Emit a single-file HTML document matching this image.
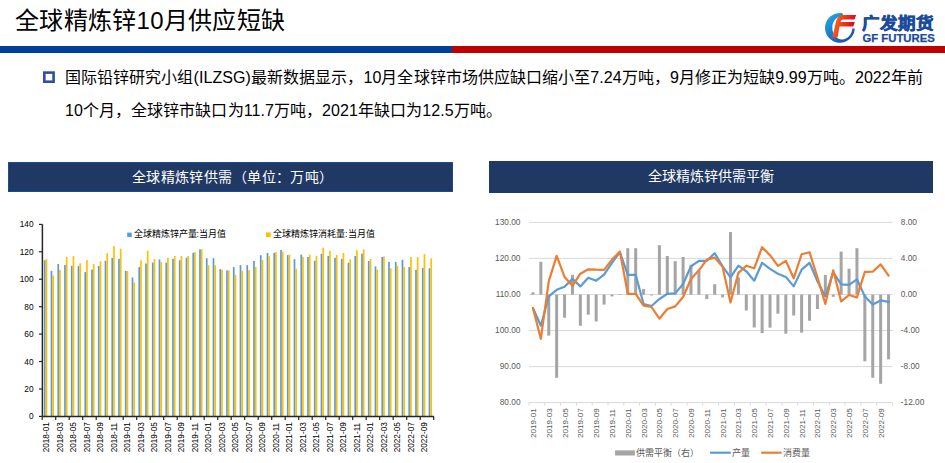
<!DOCTYPE html>
<html lang="zh-CN"><head><meta charset="utf-8">
<style>
html,body{margin:0;padding:0;background:#fff;}
body{width:945px;height:463px;position:relative;overflow:hidden;font-family:"Liberation Sans", sans-serif;}
.abs{position:absolute;}
.title{left:15px;top:4px;letter-spacing:0.3px;font-size:24px;line-height:34px;color:#000;white-space:nowrap;}
.bar-b{left:0;top:46px;width:452px;height:7px;background:#004098;}
.bar-r{left:452px;top:46px;width:493px;height:7px;background:#C00000;}
.bullet{left:43px;top:71.3px;width:6.7px;height:6.5px;border:2.5px solid #2F4F9F;}
.p{left:65px;top:61px;width:870px;font-size:16px;line-height:33px;letter-spacing:0.07px;color:#000;}
.hd{background:#1F3864;color:#fff;text-align:center;font-family:"Liberation Serif",serif;font-size:14px;}
</style></head><body>
<div class="abs title">全球精炼锌10月供应短缺</div>

<svg style="position:absolute;left:820px;top:8px" width="120" height="40" viewBox="820 8 120 40">
  <defs>
    <linearGradient id="gb" x1="0.1" y1="0.1" x2="0.8" y2="1">
      <stop offset="0" stop-color="#22a3e6"/><stop offset="1" stop-color="#1c4fa3"/>
    </linearGradient>
    <linearGradient id="gr" x1="0" y1="0.3" x2="1" y2="0.6">
      <stop offset="0.15" stop-color="#f2601e"/><stop offset="0.85" stop-color="#e5061d"/>
    </linearGradient>
  </defs>
  <path d="M842.2 13.1 A14.9 14.9 0 1 0 854.8 28.6 L852.2 28.6 C852 34.5 847.5 39.6 842 39.6 C836.5 39.6 832.3 34 832.3 27.5 C832.3 21 837 15.8 843.5 15.8 Z" fill="url(#gb)"/>
  <path d="M841.7 15 L856.1 15 L854.5 19.5 L842.8 19.5 Q841 19.5 840.5 22 L854.9 22 L853.2 26.5 L839.5 26.5 L837.6 37.5 L832.3 37.5 L835.3 24.5 Q836.8 15.8 841.7 15 Z" fill="url(#gr)"/>
  <text x="862" y="28.6" font-size="15.5" font-weight="900" fill="#1b4c9c" stroke="#1b4c9c" stroke-width="0.6" textLength="72.5" lengthAdjust="spacingAndGlyphs">广发期货</text>
  <text x="862.5" y="42" font-size="10.6" font-weight="bold" fill="#1b4c9c" stroke="#1b4c9c" stroke-width="0.25" textLength="72.3" lengthAdjust="spacingAndGlyphs">GF FUTURES</text>
</svg>

<div class="abs bar-b"></div><div class="abs bar-r"></div>
<svg class="abs" style="left:0;top:0" width="60" height="90"><rect x="44.3" y="72.6" width="9.3" height="9.1" fill="none" stroke="#2F4F9F" stroke-width="2.6"/></svg>
<div class="abs p">国际铅锌研究小组(ILZSG)最新数据显示，10月全球锌市场供应缺口缩小至7.24万吨，9月修正为短缺9.99万吨。2022年前<br>10个月，全球锌市缺口为11.7万吨，2021年缺口为12.5万吨。</div>
<div class="abs hd" style="left:8px;top:162px;width:444.5px;height:30px;line-height:31.2px;letter-spacing:0.42px;box-sizing:border-box;padding-left:4.9px;box-shadow:inset 0 0 0 1px #1a4a90;">全球精炼锌供需（单位：万吨）</div>
<div class="abs hd" style="left:489px;top:161px;width:444px;height:32px;line-height:31px;">全球精炼锌供需平衡</div>
<svg class="abs" style="left:0;top:0" width="945" height="463" viewBox="0 0 945 463" font-family='"Liberation Sans", sans-serif'>
<rect x="43.90" y="260.2" width="1.7" height="156.2" fill="#5B9BD5"/>
<rect x="45.60" y="259.1" width="1.7" height="157.3" fill="#FFC000"/>
<rect x="50.65" y="270.9" width="1.7" height="145.5" fill="#5B9BD5"/>
<rect x="52.35" y="275.5" width="1.7" height="140.9" fill="#FFC000"/>
<rect x="57.40" y="264.0" width="1.7" height="152.4" fill="#5B9BD5"/>
<rect x="59.10" y="269.9" width="1.7" height="146.5" fill="#FFC000"/>
<rect x="64.15" y="265.0" width="1.7" height="151.4" fill="#5B9BD5"/>
<rect x="65.85" y="257.0" width="1.7" height="159.4" fill="#FFC000"/>
<rect x="70.90" y="265.8" width="1.7" height="150.6" fill="#5B9BD5"/>
<rect x="72.60" y="255.9" width="1.7" height="160.5" fill="#FFC000"/>
<rect x="77.65" y="266.1" width="1.7" height="150.3" fill="#5B9BD5"/>
<rect x="79.35" y="263.2" width="1.7" height="153.2" fill="#FFC000"/>
<rect x="84.40" y="272.1" width="1.7" height="144.3" fill="#5B9BD5"/>
<rect x="86.10" y="260.2" width="1.7" height="156.2" fill="#FFC000"/>
<rect x="91.15" y="269.6" width="1.7" height="146.8" fill="#5B9BD5"/>
<rect x="92.85" y="264.1" width="1.7" height="152.3" fill="#FFC000"/>
<rect x="97.90" y="266.0" width="1.7" height="150.4" fill="#5B9BD5"/>
<rect x="99.60" y="261.3" width="1.7" height="155.1" fill="#FFC000"/>
<rect x="104.65" y="260.8" width="1.7" height="155.6" fill="#5B9BD5"/>
<rect x="106.35" y="253.2" width="1.7" height="163.2" fill="#FFC000"/>
<rect x="111.40" y="257.9" width="1.7" height="158.5" fill="#5B9BD5"/>
<rect x="113.10" y="246.1" width="1.7" height="170.3" fill="#FFC000"/>
<rect x="118.15" y="258.9" width="1.7" height="157.5" fill="#5B9BD5"/>
<rect x="119.85" y="248.7" width="1.7" height="167.7" fill="#FFC000"/>
<rect x="124.90" y="270.9" width="1.7" height="145.5" fill="#5B9BD5"/>
<rect x="126.60" y="271.0" width="1.7" height="145.4" fill="#FFC000"/>
<rect x="131.65" y="277.4" width="1.7" height="139.0" fill="#5B9BD5"/>
<rect x="133.35" y="282.3" width="1.7" height="134.1" fill="#FFC000"/>
<rect x="138.40" y="266.9" width="1.7" height="149.5" fill="#5B9BD5"/>
<rect x="140.10" y="260.3" width="1.7" height="156.1" fill="#FFC000"/>
<rect x="145.15" y="263.5" width="1.7" height="152.9" fill="#5B9BD5"/>
<rect x="146.85" y="250.8" width="1.7" height="165.6" fill="#FFC000"/>
<rect x="151.90" y="262.6" width="1.7" height="153.8" fill="#5B9BD5"/>
<rect x="153.60" y="259.0" width="1.7" height="157.4" fill="#FFC000"/>
<rect x="158.65" y="259.4" width="1.7" height="157.0" fill="#5B9BD5"/>
<rect x="160.35" y="262.3" width="1.7" height="154.1" fill="#FFC000"/>
<rect x="165.40" y="262.6" width="1.7" height="153.8" fill="#5B9BD5"/>
<rect x="167.10" y="257.8" width="1.7" height="158.6" fill="#FFC000"/>
<rect x="172.15" y="259.0" width="1.7" height="157.4" fill="#5B9BD5"/>
<rect x="173.85" y="256.0" width="1.7" height="160.4" fill="#FFC000"/>
<rect x="178.90" y="260.2" width="1.7" height="156.2" fill="#5B9BD5"/>
<rect x="180.60" y="256.0" width="1.7" height="160.4" fill="#FFC000"/>
<rect x="185.65" y="257.8" width="1.7" height="158.6" fill="#5B9BD5"/>
<rect x="187.35" y="256.0" width="1.7" height="160.4" fill="#FFC000"/>
<rect x="192.40" y="252.8" width="1.7" height="163.6" fill="#5B9BD5"/>
<rect x="194.10" y="252.2" width="1.7" height="164.2" fill="#FFC000"/>
<rect x="199.15" y="249.3" width="1.7" height="167.1" fill="#5B9BD5"/>
<rect x="200.85" y="249.3" width="1.7" height="167.1" fill="#FFC000"/>
<rect x="205.90" y="258.2" width="1.7" height="158.2" fill="#5B9BD5"/>
<rect x="207.60" y="265.2" width="1.7" height="151.2" fill="#FFC000"/>
<rect x="212.65" y="258.2" width="1.7" height="158.2" fill="#5B9BD5"/>
<rect x="214.35" y="265.2" width="1.7" height="151.2" fill="#FFC000"/>
<rect x="219.40" y="269.1" width="1.7" height="147.3" fill="#5B9BD5"/>
<rect x="221.10" y="269.8" width="1.7" height="146.6" fill="#FFC000"/>
<rect x="226.15" y="270.4" width="1.7" height="146.0" fill="#5B9BD5"/>
<rect x="227.85" y="270.3" width="1.7" height="146.1" fill="#FFC000"/>
<rect x="232.90" y="267.1" width="1.7" height="149.3" fill="#5B9BD5"/>
<rect x="234.60" y="274.8" width="1.7" height="141.6" fill="#FFC000"/>
<rect x="239.65" y="265.1" width="1.7" height="151.3" fill="#5B9BD5"/>
<rect x="241.35" y="270.9" width="1.7" height="145.5" fill="#FFC000"/>
<rect x="246.40" y="265.1" width="1.7" height="151.3" fill="#5B9BD5"/>
<rect x="248.10" y="270.1" width="1.7" height="146.3" fill="#FFC000"/>
<rect x="253.15" y="261.0" width="1.7" height="155.4" fill="#5B9BD5"/>
<rect x="254.85" y="266.9" width="1.7" height="149.5" fill="#FFC000"/>
<rect x="259.90" y="255.2" width="1.7" height="161.2" fill="#5B9BD5"/>
<rect x="261.60" y="260.0" width="1.7" height="156.4" fill="#FFC000"/>
<rect x="266.65" y="252.9" width="1.7" height="163.5" fill="#5B9BD5"/>
<rect x="268.35" y="256.2" width="1.7" height="160.2" fill="#FFC000"/>
<rect x="273.40" y="252.9" width="1.7" height="163.5" fill="#5B9BD5"/>
<rect x="275.10" y="252.1" width="1.7" height="164.3" fill="#FFC000"/>
<rect x="280.15" y="250.0" width="1.7" height="166.4" fill="#5B9BD5"/>
<rect x="281.85" y="251.5" width="1.7" height="164.9" fill="#FFC000"/>
<rect x="286.90" y="255.1" width="1.7" height="161.3" fill="#5B9BD5"/>
<rect x="288.60" y="254.6" width="1.7" height="161.8" fill="#FFC000"/>
<rect x="293.65" y="259.2" width="1.7" height="157.2" fill="#5B9BD5"/>
<rect x="295.35" y="268.9" width="1.7" height="147.5" fill="#FFC000"/>
<rect x="300.40" y="254.6" width="1.7" height="161.8" fill="#5B9BD5"/>
<rect x="302.10" y="257.0" width="1.7" height="159.4" fill="#FFC000"/>
<rect x="307.15" y="257.0" width="1.7" height="159.4" fill="#5B9BD5"/>
<rect x="308.85" y="254.6" width="1.7" height="161.8" fill="#FFC000"/>
<rect x="313.90" y="260.8" width="1.7" height="155.6" fill="#5B9BD5"/>
<rect x="315.60" y="255.8" width="1.7" height="160.6" fill="#FFC000"/>
<rect x="320.65" y="253.8" width="1.7" height="162.6" fill="#5B9BD5"/>
<rect x="322.35" y="247.7" width="1.7" height="168.7" fill="#FFC000"/>
<rect x="327.40" y="256.0" width="1.7" height="160.4" fill="#5B9BD5"/>
<rect x="329.10" y="250.8" width="1.7" height="165.6" fill="#FFC000"/>
<rect x="334.15" y="257.8" width="1.7" height="158.6" fill="#5B9BD5"/>
<rect x="335.85" y="255.0" width="1.7" height="161.4" fill="#FFC000"/>
<rect x="340.90" y="258.9" width="1.7" height="157.5" fill="#5B9BD5"/>
<rect x="342.60" y="252.9" width="1.7" height="163.5" fill="#FFC000"/>
<rect x="347.65" y="262.8" width="1.7" height="153.6" fill="#5B9BD5"/>
<rect x="349.35" y="259.4" width="1.7" height="157.0" fill="#FFC000"/>
<rect x="354.40" y="256.0" width="1.7" height="160.4" fill="#5B9BD5"/>
<rect x="356.10" y="250.2" width="1.7" height="166.2" fill="#FFC000"/>
<rect x="361.15" y="253.7" width="1.7" height="162.7" fill="#5B9BD5"/>
<rect x="362.85" y="249.4" width="1.7" height="167.0" fill="#FFC000"/>
<rect x="367.90" y="261.0" width="1.7" height="155.4" fill="#5B9BD5"/>
<rect x="369.60" y="259.0" width="1.7" height="157.4" fill="#FFC000"/>
<rect x="374.65" y="266.4" width="1.7" height="150.0" fill="#5B9BD5"/>
<rect x="376.35" y="269.6" width="1.7" height="146.8" fill="#FFC000"/>
<rect x="381.40" y="257.0" width="1.7" height="159.4" fill="#5B9BD5"/>
<rect x="383.10" y="256.5" width="1.7" height="159.9" fill="#FFC000"/>
<rect x="388.15" y="261.9" width="1.7" height="154.5" fill="#5B9BD5"/>
<rect x="389.85" y="268.3" width="1.7" height="148.1" fill="#FFC000"/>
<rect x="394.90" y="262.0" width="1.7" height="154.4" fill="#5B9BD5"/>
<rect x="396.60" y="265.9" width="1.7" height="150.5" fill="#FFC000"/>
<rect x="401.65" y="259.7" width="1.7" height="156.7" fill="#5B9BD5"/>
<rect x="403.35" y="266.9" width="1.7" height="149.5" fill="#FFC000"/>
<rect x="408.40" y="267.1" width="1.7" height="149.3" fill="#5B9BD5"/>
<rect x="410.10" y="257.0" width="1.7" height="159.4" fill="#FFC000"/>
<rect x="415.15" y="269.7" width="1.7" height="146.7" fill="#5B9BD5"/>
<rect x="416.85" y="257.0" width="1.7" height="159.4" fill="#FFC000"/>
<rect x="421.90" y="267.9" width="1.7" height="148.5" fill="#5B9BD5"/>
<rect x="423.60" y="254.0" width="1.7" height="162.4" fill="#FFC000"/>
<rect x="428.65" y="268.3" width="1.7" height="148.1" fill="#5B9BD5"/>
<rect x="430.35" y="258.4" width="1.7" height="158.0" fill="#FFC000"/>
<line x1="42.4" y1="224.4" x2="42.4" y2="416.4" stroke="#262626" stroke-width="1.5"/>
<line x1="42.4" y1="416.4" x2="434" y2="416.4" stroke="#262626" stroke-width="1.5"/>
<line x1="39" y1="416.4" x2="42.4" y2="416.4" stroke="#262626" stroke-width="1.2"/>
<text x="33.5" y="419.4" text-anchor="end" font-size="8.3" fill="#000">0</text>
<line x1="39" y1="389.0" x2="42.4" y2="389.0" stroke="#262626" stroke-width="1.2"/>
<text x="33.5" y="392.0" text-anchor="end" font-size="8.3" fill="#000">20</text>
<line x1="39" y1="361.5" x2="42.4" y2="361.5" stroke="#262626" stroke-width="1.2"/>
<text x="33.5" y="364.5" text-anchor="end" font-size="8.3" fill="#000">40</text>
<line x1="39" y1="334.1" x2="42.4" y2="334.1" stroke="#262626" stroke-width="1.2"/>
<text x="33.5" y="337.1" text-anchor="end" font-size="8.3" fill="#000">60</text>
<line x1="39" y1="306.7" x2="42.4" y2="306.7" stroke="#262626" stroke-width="1.2"/>
<text x="33.5" y="309.7" text-anchor="end" font-size="8.3" fill="#000">80</text>
<line x1="39" y1="279.2" x2="42.4" y2="279.2" stroke="#262626" stroke-width="1.2"/>
<text x="33.5" y="282.2" text-anchor="end" font-size="8.3" fill="#000">100</text>
<line x1="39" y1="251.8" x2="42.4" y2="251.8" stroke="#262626" stroke-width="1.2"/>
<text x="33.5" y="254.8" text-anchor="end" font-size="8.3" fill="#000">120</text>
<line x1="39" y1="224.4" x2="42.4" y2="224.4" stroke="#262626" stroke-width="1.2"/>
<text x="33.5" y="227.4" text-anchor="end" font-size="8.3" fill="#000">140</text>
<line x1="42.2" y1="416.4" x2="42.2" y2="419.9" stroke="#262626" stroke-width="1.2"/>
<line x1="55.7" y1="416.4" x2="55.7" y2="419.9" stroke="#262626" stroke-width="1.2"/>
<line x1="69.2" y1="416.4" x2="69.2" y2="419.9" stroke="#262626" stroke-width="1.2"/>
<line x1="82.7" y1="416.4" x2="82.7" y2="419.9" stroke="#262626" stroke-width="1.2"/>
<line x1="96.2" y1="416.4" x2="96.2" y2="419.9" stroke="#262626" stroke-width="1.2"/>
<line x1="109.7" y1="416.4" x2="109.7" y2="419.9" stroke="#262626" stroke-width="1.2"/>
<line x1="123.2" y1="416.4" x2="123.2" y2="419.9" stroke="#262626" stroke-width="1.2"/>
<line x1="136.7" y1="416.4" x2="136.7" y2="419.9" stroke="#262626" stroke-width="1.2"/>
<line x1="150.2" y1="416.4" x2="150.2" y2="419.9" stroke="#262626" stroke-width="1.2"/>
<line x1="163.7" y1="416.4" x2="163.7" y2="419.9" stroke="#262626" stroke-width="1.2"/>
<line x1="177.2" y1="416.4" x2="177.2" y2="419.9" stroke="#262626" stroke-width="1.2"/>
<line x1="190.7" y1="416.4" x2="190.7" y2="419.9" stroke="#262626" stroke-width="1.2"/>
<line x1="204.2" y1="416.4" x2="204.2" y2="419.9" stroke="#262626" stroke-width="1.2"/>
<line x1="217.7" y1="416.4" x2="217.7" y2="419.9" stroke="#262626" stroke-width="1.2"/>
<line x1="231.2" y1="416.4" x2="231.2" y2="419.9" stroke="#262626" stroke-width="1.2"/>
<line x1="244.7" y1="416.4" x2="244.7" y2="419.9" stroke="#262626" stroke-width="1.2"/>
<line x1="258.2" y1="416.4" x2="258.2" y2="419.9" stroke="#262626" stroke-width="1.2"/>
<line x1="271.7" y1="416.4" x2="271.7" y2="419.9" stroke="#262626" stroke-width="1.2"/>
<line x1="285.2" y1="416.4" x2="285.2" y2="419.9" stroke="#262626" stroke-width="1.2"/>
<line x1="298.7" y1="416.4" x2="298.7" y2="419.9" stroke="#262626" stroke-width="1.2"/>
<line x1="312.2" y1="416.4" x2="312.2" y2="419.9" stroke="#262626" stroke-width="1.2"/>
<line x1="325.7" y1="416.4" x2="325.7" y2="419.9" stroke="#262626" stroke-width="1.2"/>
<line x1="339.2" y1="416.4" x2="339.2" y2="419.9" stroke="#262626" stroke-width="1.2"/>
<line x1="352.7" y1="416.4" x2="352.7" y2="419.9" stroke="#262626" stroke-width="1.2"/>
<line x1="366.2" y1="416.4" x2="366.2" y2="419.9" stroke="#262626" stroke-width="1.2"/>
<line x1="379.7" y1="416.4" x2="379.7" y2="419.9" stroke="#262626" stroke-width="1.2"/>
<line x1="393.2" y1="416.4" x2="393.2" y2="419.9" stroke="#262626" stroke-width="1.2"/>
<line x1="406.7" y1="416.4" x2="406.7" y2="419.9" stroke="#262626" stroke-width="1.2"/>
<line x1="420.2" y1="416.4" x2="420.2" y2="419.9" stroke="#262626" stroke-width="1.2"/>
<line x1="433.7" y1="416.4" x2="433.7" y2="419.9" stroke="#262626" stroke-width="1.2"/>
<text transform="translate(49.1,452.3) rotate(-90)" font-size="8.2" fill="#000">2018-01</text>
<text transform="translate(62.6,452.3) rotate(-90)" font-size="8.2" fill="#000">2018-03</text>
<text transform="translate(76.1,452.3) rotate(-90)" font-size="8.2" fill="#000">2018-05</text>
<text transform="translate(89.6,452.3) rotate(-90)" font-size="8.2" fill="#000">2018-07</text>
<text transform="translate(103.1,452.3) rotate(-90)" font-size="8.2" fill="#000">2018-09</text>
<text transform="translate(116.6,452.3) rotate(-90)" font-size="8.2" fill="#000">2018-11</text>
<text transform="translate(130.1,452.3) rotate(-90)" font-size="8.2" fill="#000">2019-01</text>
<text transform="translate(143.6,452.3) rotate(-90)" font-size="8.2" fill="#000">2019-03</text>
<text transform="translate(157.1,452.3) rotate(-90)" font-size="8.2" fill="#000">2019-05</text>
<text transform="translate(170.6,452.3) rotate(-90)" font-size="8.2" fill="#000">2019-07</text>
<text transform="translate(184.1,452.3) rotate(-90)" font-size="8.2" fill="#000">2019-09</text>
<text transform="translate(197.6,452.3) rotate(-90)" font-size="8.2" fill="#000">2019-11</text>
<text transform="translate(211.1,452.3) rotate(-90)" font-size="8.2" fill="#000">2020-01</text>
<text transform="translate(224.6,452.3) rotate(-90)" font-size="8.2" fill="#000">2020-03</text>
<text transform="translate(238.1,452.3) rotate(-90)" font-size="8.2" fill="#000">2020-05</text>
<text transform="translate(251.6,452.3) rotate(-90)" font-size="8.2" fill="#000">2020-07</text>
<text transform="translate(265.1,452.3) rotate(-90)" font-size="8.2" fill="#000">2020-09</text>
<text transform="translate(278.6,452.3) rotate(-90)" font-size="8.2" fill="#000">2020-11</text>
<text transform="translate(292.1,452.3) rotate(-90)" font-size="8.2" fill="#000">2021-01</text>
<text transform="translate(305.6,452.3) rotate(-90)" font-size="8.2" fill="#000">2021-03</text>
<text transform="translate(319.1,452.3) rotate(-90)" font-size="8.2" fill="#000">2021-05</text>
<text transform="translate(332.6,452.3) rotate(-90)" font-size="8.2" fill="#000">2021-07</text>
<text transform="translate(346.1,452.3) rotate(-90)" font-size="8.2" fill="#000">2021-09</text>
<text transform="translate(359.6,452.3) rotate(-90)" font-size="8.2" fill="#000">2021-11</text>
<text transform="translate(373.1,452.3) rotate(-90)" font-size="8.2" fill="#000">2022-01</text>
<text transform="translate(386.6,452.3) rotate(-90)" font-size="8.2" fill="#000">2022-03</text>
<text transform="translate(400.1,452.3) rotate(-90)" font-size="8.2" fill="#000">2022-05</text>
<text transform="translate(413.6,452.3) rotate(-90)" font-size="8.2" fill="#000">2022-07</text>
<text transform="translate(427.1,452.3) rotate(-90)" font-size="8.2" fill="#000">2022-09</text>
<rect x="127.2" y="232.6" width="4.5" height="4.5" fill="#5B9BD5"/>
<text x="133.5" y="237.3" font-size="9" font-weight="500" fill="#000">全球精炼锌产量:当月值</text>
<rect x="266" y="232.4" width="4.7" height="4.7" fill="#FFC000"/>
<text x="273" y="237.3" font-size="9" font-weight="500" fill="#000">全球精炼锌消耗量:当月值</text>
<line x1="529" y1="222.4" x2="892.5" y2="222.4" stroke="#D9D9D9" stroke-width="1"/>
<text x="520.5" y="225.4" text-anchor="end" font-size="8.3" fill="#595959">130.00</text>
<line x1="529" y1="258.4" x2="892.5" y2="258.4" stroke="#D9D9D9" stroke-width="1"/>
<text x="520.5" y="261.2" text-anchor="end" font-size="8.3" fill="#595959">120.00</text>
<line x1="529" y1="294.5" x2="892.5" y2="294.5" stroke="#D9D9D9" stroke-width="1"/>
<text x="520.5" y="297.1" text-anchor="end" font-size="8.3" fill="#595959">110.00</text>
<line x1="529" y1="330.5" x2="892.5" y2="330.5" stroke="#D9D9D9" stroke-width="1"/>
<text x="520.5" y="332.9" text-anchor="end" font-size="8.3" fill="#595959">100.00</text>
<line x1="529" y1="366.6" x2="892.5" y2="366.6" stroke="#D9D9D9" stroke-width="1"/>
<text x="520.5" y="368.8" text-anchor="end" font-size="8.3" fill="#595959">90.00</text>
<text x="520.5" y="404.6" text-anchor="end" font-size="8.3" fill="#595959">80.00</text>
<text x="900.8" y="225.4" font-size="8.3" fill="#595959">8.00</text>
<text x="900.8" y="261.2" font-size="8.3" fill="#595959">4.00</text>
<text x="900.8" y="297.1" font-size="8.3" fill="#595959">0.00</text>
<text x="900.8" y="332.9" font-size="8.3" fill="#595959">-4.00</text>
<text x="900.8" y="368.8" font-size="8.3" fill="#595959">-8.00</text>
<text x="900.8" y="404.6" font-size="8.3" fill="#595959">-12.00</text>
<rect x="531.45" y="292.3" width="3" height="2.3" fill="#A5A5A5"/>
<rect x="539.35" y="261.8" width="3" height="32.8" fill="#A5A5A5"/>
<rect x="547.26" y="294.6" width="3" height="41.0" fill="#A5A5A5"/>
<rect x="555.16" y="294.6" width="3" height="83.2" fill="#A5A5A5"/>
<rect x="563.06" y="294.6" width="3" height="23.1" fill="#A5A5A5"/>
<rect x="570.96" y="274.8" width="3" height="19.8" fill="#A5A5A5"/>
<rect x="578.86" y="294.6" width="3" height="31.1" fill="#A5A5A5"/>
<rect x="586.77" y="294.6" width="3" height="20.1" fill="#A5A5A5"/>
<rect x="594.67" y="294.6" width="3" height="26.9" fill="#A5A5A5"/>
<rect x="602.57" y="294.6" width="3" height="10.0" fill="#A5A5A5"/>
<rect x="610.47" y="294.6" width="3" height="1.8" fill="#A5A5A5"/>
<rect x="618.38" y="294.2" width="3" height="0.6" fill="#A5A5A5"/>
<rect x="626.28" y="248.2" width="3" height="46.4" fill="#A5A5A5"/>
<rect x="634.18" y="248.2" width="3" height="46.4" fill="#A5A5A5"/>
<rect x="642.08" y="289.0" width="3" height="5.6" fill="#A5A5A5"/>
<rect x="649.98" y="294.6" width="3" height="0.9" fill="#A5A5A5"/>
<rect x="657.89" y="245.2" width="3" height="49.4" fill="#A5A5A5"/>
<rect x="665.79" y="256.0" width="3" height="38.6" fill="#A5A5A5"/>
<rect x="673.69" y="261.2" width="3" height="33.4" fill="#A5A5A5"/>
<rect x="681.59" y="257.0" width="3" height="37.6" fill="#A5A5A5"/>
<rect x="689.49" y="264.7" width="3" height="29.9" fill="#A5A5A5"/>
<rect x="697.40" y="270.9" width="3" height="23.7" fill="#A5A5A5"/>
<rect x="705.30" y="294.6" width="3" height="4.4" fill="#A5A5A5"/>
<rect x="713.20" y="284.2" width="3" height="10.4" fill="#A5A5A5"/>
<rect x="721.10" y="294.6" width="3" height="2.8" fill="#A5A5A5"/>
<rect x="729.01" y="232.1" width="3" height="62.5" fill="#A5A5A5"/>
<rect x="736.91" y="277.3" width="3" height="17.3" fill="#A5A5A5"/>
<rect x="744.81" y="294.6" width="3" height="15.9" fill="#A5A5A5"/>
<rect x="752.71" y="294.6" width="3" height="32.9" fill="#A5A5A5"/>
<rect x="760.61" y="294.6" width="3" height="38.6" fill="#A5A5A5"/>
<rect x="768.52" y="294.6" width="3" height="33.1" fill="#A5A5A5"/>
<rect x="776.42" y="294.6" width="3" height="19.1" fill="#A5A5A5"/>
<rect x="784.32" y="294.6" width="3" height="39.0" fill="#A5A5A5"/>
<rect x="792.22" y="294.6" width="3" height="20.9" fill="#A5A5A5"/>
<rect x="800.12" y="294.6" width="3" height="38.0" fill="#A5A5A5"/>
<rect x="808.03" y="294.6" width="3" height="26.1" fill="#A5A5A5"/>
<rect x="815.93" y="294.6" width="3" height="14.4" fill="#A5A5A5"/>
<rect x="823.83" y="274.9" width="3" height="19.7" fill="#A5A5A5"/>
<rect x="831.73" y="294.6" width="3" height="2.2" fill="#A5A5A5"/>
<rect x="839.64" y="251.6" width="3" height="43.0" fill="#A5A5A5"/>
<rect x="847.54" y="268.7" width="3" height="25.9" fill="#A5A5A5"/>
<rect x="855.44" y="248.2" width="3" height="46.4" fill="#A5A5A5"/>
<rect x="863.34" y="294.6" width="3" height="66.7" fill="#A5A5A5"/>
<rect x="871.24" y="294.6" width="3" height="83.2" fill="#A5A5A5"/>
<rect x="879.15" y="294.6" width="3" height="89.2" fill="#A5A5A5"/>
<rect x="887.05" y="294.6" width="3" height="64.7" fill="#A5A5A5"/>
<line x1="529" y1="402.6" x2="892.5" y2="402.6" stroke="#D9D9D9" stroke-width="1"/>
<line x1="529.0" y1="402.6" x2="529.0" y2="405.6" stroke="#D9D9D9" stroke-width="1"/>
<line x1="544.8" y1="402.6" x2="544.8" y2="405.6" stroke="#D9D9D9" stroke-width="1"/>
<line x1="560.6" y1="402.6" x2="560.6" y2="405.6" stroke="#D9D9D9" stroke-width="1"/>
<line x1="576.4" y1="402.6" x2="576.4" y2="405.6" stroke="#D9D9D9" stroke-width="1"/>
<line x1="592.2" y1="402.6" x2="592.2" y2="405.6" stroke="#D9D9D9" stroke-width="1"/>
<line x1="608.0" y1="402.6" x2="608.0" y2="405.6" stroke="#D9D9D9" stroke-width="1"/>
<line x1="623.8" y1="402.6" x2="623.8" y2="405.6" stroke="#D9D9D9" stroke-width="1"/>
<line x1="639.6" y1="402.6" x2="639.6" y2="405.6" stroke="#D9D9D9" stroke-width="1"/>
<line x1="655.4" y1="402.6" x2="655.4" y2="405.6" stroke="#D9D9D9" stroke-width="1"/>
<line x1="671.2" y1="402.6" x2="671.2" y2="405.6" stroke="#D9D9D9" stroke-width="1"/>
<line x1="687.0" y1="402.6" x2="687.0" y2="405.6" stroke="#D9D9D9" stroke-width="1"/>
<line x1="702.8" y1="402.6" x2="702.8" y2="405.6" stroke="#D9D9D9" stroke-width="1"/>
<line x1="718.7" y1="402.6" x2="718.7" y2="405.6" stroke="#D9D9D9" stroke-width="1"/>
<line x1="734.5" y1="402.6" x2="734.5" y2="405.6" stroke="#D9D9D9" stroke-width="1"/>
<line x1="750.3" y1="402.6" x2="750.3" y2="405.6" stroke="#D9D9D9" stroke-width="1"/>
<line x1="766.1" y1="402.6" x2="766.1" y2="405.6" stroke="#D9D9D9" stroke-width="1"/>
<line x1="781.9" y1="402.6" x2="781.9" y2="405.6" stroke="#D9D9D9" stroke-width="1"/>
<line x1="797.7" y1="402.6" x2="797.7" y2="405.6" stroke="#D9D9D9" stroke-width="1"/>
<line x1="813.5" y1="402.6" x2="813.5" y2="405.6" stroke="#D9D9D9" stroke-width="1"/>
<line x1="829.3" y1="402.6" x2="829.3" y2="405.6" stroke="#D9D9D9" stroke-width="1"/>
<line x1="845.1" y1="402.6" x2="845.1" y2="405.6" stroke="#D9D9D9" stroke-width="1"/>
<line x1="860.9" y1="402.6" x2="860.9" y2="405.6" stroke="#D9D9D9" stroke-width="1"/>
<line x1="876.7" y1="402.6" x2="876.7" y2="405.6" stroke="#D9D9D9" stroke-width="1"/>
<line x1="892.5" y1="402.6" x2="892.5" y2="405.6" stroke="#D9D9D9" stroke-width="1"/>
<text transform="translate(536.0,438) rotate(-90)" font-size="8.1" fill="#595959">2019-01</text>
<text transform="translate(551.8,438) rotate(-90)" font-size="8.1" fill="#595959">2019-03</text>
<text transform="translate(567.6,438) rotate(-90)" font-size="8.1" fill="#595959">2019-05</text>
<text transform="translate(583.4,438) rotate(-90)" font-size="8.1" fill="#595959">2019-07</text>
<text transform="translate(599.2,438) rotate(-90)" font-size="8.1" fill="#595959">2019-09</text>
<text transform="translate(615.0,438) rotate(-90)" font-size="8.1" fill="#595959">2019-11</text>
<text transform="translate(630.8,438) rotate(-90)" font-size="8.1" fill="#595959">2020-01</text>
<text transform="translate(646.6,438) rotate(-90)" font-size="8.1" fill="#595959">2020-03</text>
<text transform="translate(662.4,438) rotate(-90)" font-size="8.1" fill="#595959">2020-05</text>
<text transform="translate(678.2,438) rotate(-90)" font-size="8.1" fill="#595959">2020-07</text>
<text transform="translate(694.0,438) rotate(-90)" font-size="8.1" fill="#595959">2020-09</text>
<text transform="translate(709.8,438) rotate(-90)" font-size="8.1" fill="#595959">2020-11</text>
<text transform="translate(725.6,438) rotate(-90)" font-size="8.1" fill="#595959">2021-01</text>
<text transform="translate(741.4,438) rotate(-90)" font-size="8.1" fill="#595959">2021-03</text>
<text transform="translate(757.2,438) rotate(-90)" font-size="8.1" fill="#595959">2021-05</text>
<text transform="translate(773.0,438) rotate(-90)" font-size="8.1" fill="#595959">2021-07</text>
<text transform="translate(788.8,438) rotate(-90)" font-size="8.1" fill="#595959">2021-09</text>
<text transform="translate(804.6,438) rotate(-90)" font-size="8.1" fill="#595959">2021-11</text>
<text transform="translate(820.4,438) rotate(-90)" font-size="8.1" fill="#595959">2022-01</text>
<text transform="translate(836.2,438) rotate(-90)" font-size="8.1" fill="#595959">2022-03</text>
<text transform="translate(852.0,438) rotate(-90)" font-size="8.1" fill="#595959">2022-05</text>
<text transform="translate(867.8,438) rotate(-90)" font-size="8.1" fill="#595959">2022-07</text>
<text transform="translate(883.6,438) rotate(-90)" font-size="8.1" fill="#595959">2022-09</text>
<polyline points="532.95,308.0 540.85,325.7 548.76,296.4 556.66,289.8 564.56,286.8 572.46,278.9 580.36,286.4 588.27,277.7 596.17,280.7 604.07,274.7 611.97,262.8 619.88,252.2 627.78,274.9 635.68,274.9 643.58,304.0 651.48,306.0 659.39,299.0 667.29,293.8 675.19,293.4 683.09,284.0 690.99,266.3 698.90,260.8 706.80,260.8 714.70,253.2 722.60,266.3 730.51,277.3 738.41,265.7 746.31,271.3 754.21,280.7 762.11,262.8 770.02,268.9 777.92,273.7 785.82,276.9 793.72,286.4 801.62,269.7 809.53,262.8 817.43,281.3 825.33,296.4 833.23,272.3 841.14,284.4 849.04,284.8 856.94,279.3 864.84,296.4 872.74,304.5 880.65,300.4 888.55,301.9" fill="none" stroke="#5B9BD5" stroke-width="2.2" stroke-linejoin="round" stroke-linecap="round"/>
<polyline points="532.95,308.0 540.85,338.8 548.76,281.3 556.66,255.8 564.56,276.9 572.46,285.8 580.36,273.7 588.27,269.3 596.17,269.7 604.07,269.9 611.97,259.6 619.88,251.6 627.78,293.8 635.68,293.8 643.58,305.6 651.48,307.0 659.39,318.7 667.29,309.0 675.19,306.4 683.09,297.0 690.99,279.0 698.90,270.3 706.80,259.6 714.70,257.6 722.60,266.9 730.51,302.5 738.41,272.9 746.31,265.7 754.21,268.3 762.11,247.2 770.02,255.2 777.92,265.9 785.82,260.8 793.72,278.3 801.62,254.2 809.53,252.2 817.43,277.3 825.33,303.9 833.23,270.3 841.14,301.4 849.04,295.0 856.94,297.4 864.84,271.9 872.74,271.7 880.65,264.3 888.55,275.7" fill="none" stroke="#ED7D31" stroke-width="2.2" stroke-linejoin="round" stroke-linecap="round"/>
<rect x="615.1" y="450.4" width="19.8" height="5.1" fill="#A5A5A5"/>
<text x="636" y="456" font-size="9" fill="#595959">供需平衡（右）</text>
<line x1="710" y1="452.7" x2="730.8" y2="452.7" stroke="#5B9BD5" stroke-width="2.2"/>
<text x="732" y="456" font-size="9" fill="#595959">产量</text>
<line x1="761.1" y1="452.7" x2="781.6" y2="452.7" stroke="#ED7D31" stroke-width="2.2"/>
<text x="783.2" y="456" font-size="9" fill="#595959">消费量</text>
</svg>
</body></html>
